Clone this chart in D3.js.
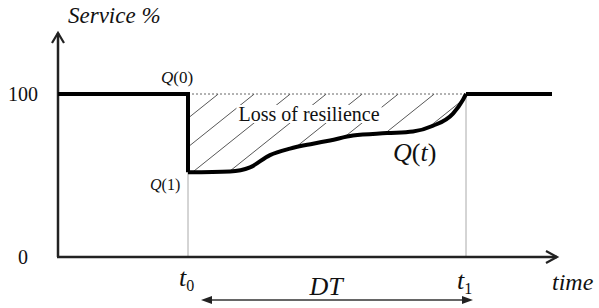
<!DOCTYPE html>
<html>
<head>
<meta charset="utf-8">
<script src="https://cdn.jsdelivr.net/npm/d3@7/dist/d3.min.js"></script>
<style>
  html, body { margin: 0; padding: 0; background: #fff; }
  svg { display: block; }
</style>
</head>
<body>
<svg id="chart" width="599" height="308"></svg>
<script>
// ---- data ----
const timeValues    = [0, 13.0, 13.0, 17.2, 19.2, 21.2, 23.2, 25.5, 27.2, 29.5, 32.9, 35.5, 37.5, 39.5, 40.5, 40.8, 49.4];
const serviceValues = [100, 100, 52, 52.5, 55, 62.5, 66.5, 69.5, 71.5, 74.5, 76, 77, 80.5, 88, 96.5, 100, 100];
const yTickValues = [0, 100];
const yTickLabels = ["0", "100"];
const t0 = 13.0, t1 = 40.8;
const xLabels = ["t", "t"];
const xSubs = ["0", "1"];

const SERIF = "'Liberation Serif', 'Times New Roman', Times, 'DejaVu Serif', serif";

const svg = d3.select("#chart");
const x = d3.scaleLinear().domain([0, 50]).range([58, 558]);
const y = d3.scaleLinear().domain([0, 100]).range([257, 94]);

const pts = timeValues.map((t, i) => ({ t, v: serviceValues[i] }));
const recovery = pts.filter((p, i) => i >= 2 && p.t <= t1);

// hatch area clip
const area = d3.area().x(d => x(d.t)).y0(y(100)).y1(d => y(d.v)).curve(d3.curveMonotoneX);
svg.append("clipPath").attr("id", "lossClip")
  .append("path").attr("d", area(recovery));

const hatch = svg.append("g").attr("clip-path", "url(#lossClip)");
const slope = 0.8, spacing = 36;
for (let x0 = x(t0) - 200; x0 < x(t1) + 40; x0 += spacing) {
  hatch.append("line")
    .attr("x1", x0).attr("y1", y(40))
    .attr("x2", x0 + (y(40) - y(100)) / slope).attr("y2", y(100))
    .attr("stroke", "#444").attr("stroke-width", 0.9);
}

function txt(xp, yp, size) {
  return svg.append("text").attr("x", xp).attr("y", yp)
    .attr("font-family", SERIF).attr("font-size", size).attr("fill", "#111");
}

// label for loss, with white background
const lossText = txt(309, 121, 20).attr("text-anchor", "middle").text("Loss of resilience");
const bb = lossText.node().getBBox();
svg.insert("rect", "text")
  .attr("x", bb.x - 2).attr("y", bb.y + 2).attr("width", bb.width + 4).attr("height", bb.height - 4)
  .attr("fill", "#fff");

// dotted 100% reference between t0 and t1
svg.append("line")
  .attr("x1", x(t0)).attr("x2", x(t1)).attr("y1", y(100)).attr("y2", y(100))
  .attr("stroke", "#666").attr("stroke-width", 1).attr("stroke-dasharray", "2,2");

// vertical guide lines
svg.append("line").attr("x1", x(t0)).attr("x2", x(t0)).attr("y1", y(52)).attr("y2", y(0))
  .attr("stroke", "#aaa").attr("stroke-width", 1);
svg.append("line").attr("x1", x(t1)).attr("x2", x(t1)).attr("y1", y(100)).attr("y2", y(0))
  .attr("stroke", "#aaa").attr("stroke-width", 1);

// axes
const axisColor = "#222";
svg.append("line").attr("x1", x(0)).attr("x2", x(0)).attr("y1", y(0)).attr("y2", 33)
  .attr("stroke", axisColor).attr("stroke-width", 2.5);
svg.append("path").attr("d", `M${x(0)-6},43 L${x(0)},33 L${x(0)+6},43`)
  .attr("fill", "none").attr("stroke", axisColor).attr("stroke-width", 2.2);
svg.append("line").attr("x1", x(0) - 1).attr("x2", 557).attr("y1", y(0)).attr("y2", y(0))
  .attr("stroke", axisColor).attr("stroke-width", 2.5);
svg.append("path").attr("d", `M546,${y(0)-6} L557,${y(0)} L546,${y(0)+6}`)
  .attr("fill", "none").attr("stroke", axisColor).attr("stroke-width", 2.2);

// y tick labels
yTickValues.forEach((d, i) => {
  txt(23, y(d) + 7, 20).attr("text-anchor", "middle").text(yTickLabels[i]);
});

// main service curve: step, recovery, steady
const lin = d3.line().x(d => x(d.t)).y(d => y(d.v));
const smooth = d3.line().x(d => x(d.t)).y(d => y(d.v)).curve(d3.curveMonotoneX);
const before = pts.slice(0, 3);
const after = pts.filter(p => p.t >= t1);
const curveStyle = p => p.attr("fill", "none").attr("stroke", "#000").attr("stroke-width", 4)
  .attr("stroke-linejoin", "round");
svg.append("path").attr("d", lin(before)).call(curveStyle).attr("stroke-linejoin", "miter");
svg.append("path").attr("d", smooth(recovery)).call(curveStyle);
svg.append("path").attr("d", lin(after)).call(curveStyle);

// Service % title
txt(68, 23, 23).attr("font-style", "italic").text("Service %");

// Q labels
function qLabel(xp, yp, size, arg, argItalic) {
  const t = txt(xp, yp, size);
  t.append("tspan").attr("font-style", "italic").text("Q");
  t.append("tspan").text("(");
  t.append("tspan").attr("font-style", argItalic ? "italic" : "normal").text(arg);
  t.append("tspan").text(")");
}
qLabel(161, 83, 17, "0", false);
qLabel(150, 190, 16, "1", false);
qLabel(393, 161, 26, "t", true);

// t0 / t1 labels
[t0, t1].forEach((tv, i) => {
  const t = txt(x(tv) - 9, i === 0 ? 286 : 289, 26);
  t.append("tspan").attr("font-style", "italic").text(xLabels[i]);
  t.append("tspan").attr("dy", 5).attr("font-size", 16).text(xSubs[i]);
});

// time label
txt(552, 290, 24).attr("font-style", "italic").text("time");

// DT arrow
const dtY = 300;
svg.append("line").attr("x1", x(t0) + 18).attr("x2", x(t1) - 2).attr("y1", dtY).attr("y2", dtY)
  .attr("stroke", "#333").attr("stroke-width", 1.6);
svg.append("path").attr("d", `M${x(t0)+13},${dtY} L${x(t0)+24},${dtY-4} L${x(t0)+24},${dtY+4} Z`).attr("fill", "#222");
svg.append("path").attr("d", `M${x(t1)+7},${dtY} L${x(t1)-4},${dtY-4} L${x(t1)-4},${dtY+4} Z`).attr("fill", "#222");
txt(326, 295, 26).attr("text-anchor", "middle").attr("font-style", "italic").text("DT");
</script>
</body>
</html>
